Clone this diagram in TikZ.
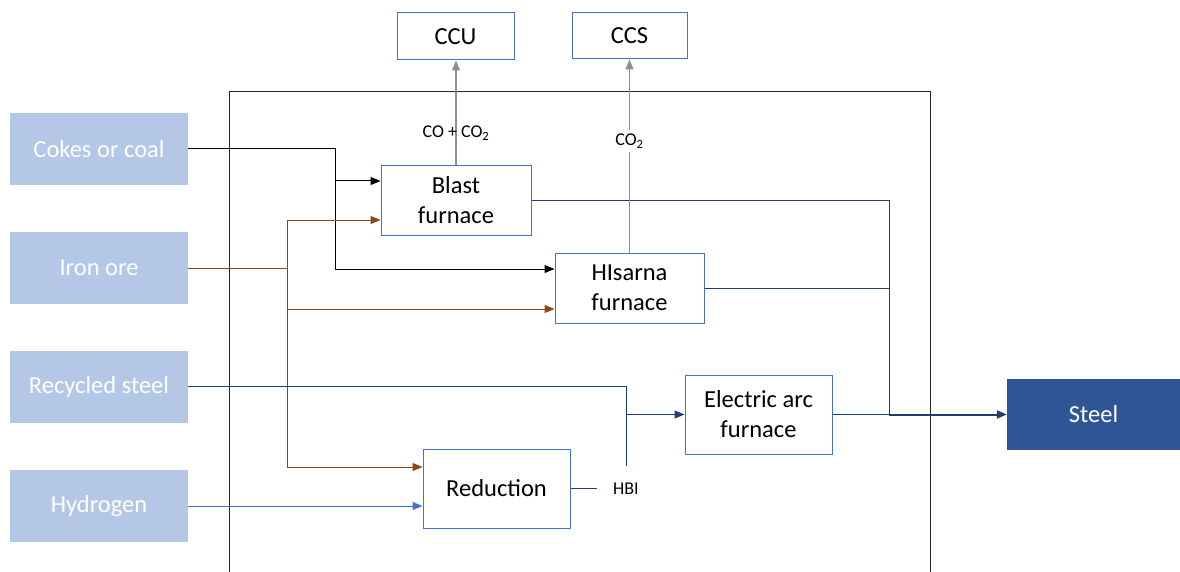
\documentclass[tikz,border=0pt]{standalone}
\usepackage{fontspec}
\setmainfont{Carlito}
\usepackage{tikz}
\usetikzlibrary{arrows.meta,positioning,calc}
\definecolor{inputblue}{HTML}{B4C7E7}
\definecolor{boxblue}{HTML}{4472C4}
\definecolor{steelnavy}{HTML}{2F5597}
\definecolor{routenavy}{HTML}{1F3C74}
\definecolor{orebrown}{HTML}{8F4513}
\definecolor{gasgrey}{HTML}{8E8E8E}
\definecolor{framegrey}{HTML}{262626}
\tikzset{
  src/.style={fill=inputblue, text=white, minimum width=178pt,
              minimum height=72pt, inner sep=0pt,
              font=\fontsize{24.5}{30}\selectfont},
  proc/.style={draw=boxblue, line width=1pt, fill=white, align=center,
               inner sep=0pt, font=\fontsize{24.5}{30}\selectfont},
  tag/.style={font=\fontsize{18}{20}\selectfont, inner sep=2pt},
  feed/.style={-{Triangle[length=10pt,width=8pt]}, line width=1pt, draw=#1},
  link/.style={line width=1pt, draw=#1},
}

\begin{document}
\begin{tikzpicture}[x=1pt, y=-1pt]
\tikzset{
  sz/.style 2 args={minimum width=#1pt, minimum height=#2pt},
}
\useasboundingbox (0,0) rectangle (1180,572);

% plant boundary
\draw[framegrey, line width=1pt] (229,572) |- (930,92) -- (930,572);

\foreach \nm/\txt/\y in {coke/Cokes or coal/149, ore/Iron ore/268,
                         rec/Recycled steel/386.5, hyd/Hydrogen/506}{
  \node[src] at (99,\y) (\nm) {\txt};}

\node[proc, sz={117}{47}]  at (455.5,36.5)  (ccu)   {CCU};
\node[proc, sz={115}{46}]  at (629.5,36)    (ccs)   {CCS};
\node[proc, sz={150}{69}]  at (456,200.5)   (blast) {Blast\\furnace};
\node[proc, sz={149}{70}]  at (629.5,288)   (his)   {HIsarna\\furnace};
\node[proc, sz={147}{79}]  at (758.5,414.5) (eaf)   {Electric arc\\furnace};
\node[proc, sz={147}{79}]  at (496.5,488.5) (red)   {Reduction};
\node[src, fill=steelnavy, sz={173}{71}] at (1093.5,414.5) (steel) {Steel};
\node[tag, inner sep=16.5pt] at (626,488.5) (hbi) {HBI};

\coordinate (cj) at (335,181);
\coordinate (oj) at (287,268);
\coordinate (sj) at (889,414.5);

% coal
\draw[feed=black] (coke.east) -| (cj) -- (cj -| blast.west);
\draw[feed=black] (cj) |- ([yshift=19pt]his.west);

% ore
\draw[link=orebrown] (ore.east) -- (oj);
\draw[feed=orebrown] (oj) |- ([yshift=-19.5pt]blast.west);
\draw[feed=orebrown] (oj) |- ([yshift=-21pt]his.west);
\draw[feed=orebrown] (oj) |- ([yshift=21.5pt]red.west);

\draw[feed=boxblue] (hyd.east) -- (hyd.east -| red.west);

% scrap and HBI to the arc furnace
\draw[link=routenavy] (rec.east) -| (hbi.north);
\draw[link=routenavy] (red.east) -- (hbi.west);
\coordinate (ej) at (hbi.north |- eaf.west);
\draw[feed=routenavy] (ej) -- (eaf.west);

% routes to steel
\draw[link=routenavy] (blast.east) -| (sj);
\draw[link=routenavy] (his.east) -| (sj);
\draw[link=routenavy] (eaf.east) -- (sj);
\draw[feed=routenavy, line width=2pt] (sj) -- (steel.west);

% off-gas
\draw[feed=gasgrey, line width=1.2pt] (blast.north) -- (blast.north |- ccu.south)
  node[tag, pos=0.31] (lco) {CO + CO\textsubscript{2}};
\draw[feed=gasgrey, line width=1.2pt] (his.north) -- (his.north |- ccs.south)
  node[tag, pos=0.577, fill=white, inner sep=4pt] (lco2) {CO\textsubscript{2}};
\end{tikzpicture}
\end{document}
